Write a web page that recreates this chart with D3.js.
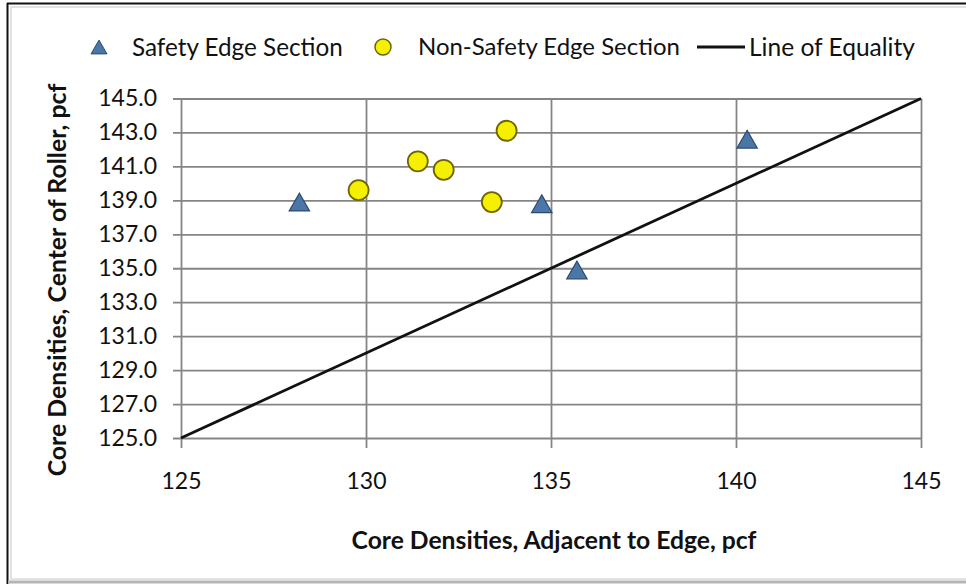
<!DOCTYPE html>
<html>
<head>
<meta charset="utf-8">
<script src="https://cdn.jsdelivr.net/npm/d3@7"></script>
<style>
  html, body { margin: 0; padding: 0; background: #fff; }
  svg { display: block; }
  text { font-family: Lato, "Open Sans", sans-serif; fill: #111; }
</style>
</head>
<body>
<svg id="chart" width="966" height="584"></svg>
<script>
// ---- data ----
const safetyX = [128.2, 134.75, 135.7, 140.3];
const safetyY = [138.9, 138.8, 134.9, 142.6];
const nonSafetyX = [129.8, 131.4, 132.1, 133.8, 133.4];
const nonSafetyY = [139.6, 141.3, 140.8, 143.1, 138.9];
const equalityX = [125, 145];
const equalityY = [125, 145];
const xTicks = [125, 130, 135, 140, 145];
const yTicks = [125, 127, 129, 131, 133, 135, 137, 139, 141, 143, 145];
const legendLabels = ["Safety Edge Section", "Non-Safety Edge Section", "Line of Equality"];
const xTitle = "Core Densities, Adjacent to Edge, pcf";
const yTitle = "Core Densities, Center of Roller, pcf";

// ---- layout ----
const svg = d3.select("#chart");
const pLeft = 181, pRight = 921, pTop = 98.5, pBottom = 438;
const x = d3.scaleLinear().domain([125, 145]).range([pLeft, pRight]);
const y = d3.scaleLinear().domain([125, 145]).range([pBottom, pTop]);

// frame
svg.append("rect").attr("x", 11).attr("y", 7).attr("width", 970).attr("height", 572)
  .attr("fill", "none").attr("stroke", "#e2e2e2").attr("stroke-width", 2);
svg.append("line").attr("x1", 7.5).attr("x2", 7.5).attr("y1", 3).attr("y2", 584)
  .attr("stroke", "#111").attr("stroke-width", 2);
svg.append("line").attr("x1", 7).attr("x2", 966).attr("y1", 3.5).attr("y2", 3.5)
  .attr("stroke", "#111").attr("stroke-width", 2);
svg.append("line").attr("x1", 8).attr("x2", 966).attr("y1", 582).attr("y2", 582)
  .attr("stroke", "#b5b5b5").attr("stroke-width", 3);

const gridColor = "#858585";

// horizontal grid + y axis
const yAxis = d3.axisLeft(y).tickValues(yTicks).tickSize(-(pRight - pLeft)).tickSizeOuter(0)
  .tickFormat(d3.format(".1f"));
const gy = svg.append("g").attr("transform", `translate(${pLeft},0)`).call(yAxis);
gy.select(".domain").remove();
gy.selectAll(".tick line").attr("stroke", gridColor).attr("stroke-width", 1.8)
  .attr("x1", -8);
gy.selectAll(".tick text").attr("x", -24).attr("font-size", 23).attr("fill", "#111")
  .style("font-family", "Lato, sans-serif");

// vertical grid + x axis
const xAxis = d3.axisBottom(x).tickValues(xTicks).tickSize(-(pBottom - pTop)).tickSizeOuter(0)
  .tickFormat(d3.format("d"));
const gx = svg.append("g").attr("transform", `translate(0,${pBottom})`).call(xAxis);
gx.select(".domain").remove();
gx.selectAll(".tick line").attr("stroke", gridColor).attr("stroke-width", 1.8)
  .attr("y1", 10);
gx.selectAll(".tick text").attr("y", 43).attr("dy", "0.35em").attr("font-size", 23)
  .attr("fill", "#111").style("font-family", "Lato, sans-serif");

// line of equality
const lineGen = d3.line().x(d => x(d[0])).y(d => y(d[1]));
svg.append("path").datum(d3.zip(equalityX, equalityY)).attr("d", lineGen)
  .attr("fill", "none").attr("stroke", "#111").attr("stroke-width", 2.8);

// markers
const triSize = 180;
const triH = Math.sqrt(triSize * 4 / Math.sqrt(3)) * Math.sqrt(3) / 2;
const tri = d3.symbol().type(d3.symbolTriangle).size(triSize);
const triColor = "#4a76a8", triStroke = "#2c4a70";
const circColor = "#f4f000", circStroke = "#6e6400";

svg.append("g").selectAll("circle").data(d3.zip(nonSafetyX, nonSafetyY)).join("circle")
  .attr("cx", d => x(d[0])).attr("cy", d => y(d[1])).attr("r", 10)
  .attr("fill", circColor).attr("stroke", circStroke).attr("stroke-width", 1.8);

svg.append("g").selectAll("path").data(d3.zip(safetyX, safetyY)).join("path")
  .attr("d", tri)
  .attr("transform", d => `translate(${x(d[0])},${y(d[1]) + triH / 6})`)
  .attr("fill", triColor).attr("stroke", triStroke).attr("stroke-width", 1.2);

// fit helper
function fit(sel, target) {
  const w = sel.node().getComputedTextLength();
  const fs = parseFloat(sel.attr("font-size"));
  if (w > 0) sel.attr("font-size", fs * target / w);
}

// legend
const ly = 47;
const lg = svg.append("g");
const triL = d3.symbol().type(d3.symbolTriangle).size(110);
const triLH = Math.sqrt(110 * 4 / Math.sqrt(3)) * Math.sqrt(3) / 2;
lg.append("path").attr("d", triL).attr("transform", `translate(99,${ly + triLH / 6})`)
  .attr("fill", triColor).attr("stroke", triStroke).attr("stroke-width", 1);
const t1 = lg.append("text").attr("x", 132).attr("y", ly).attr("dy", "0.35em")
  .attr("font-size", 21).text(legendLabels[0]);
fit(t1, 211);
lg.append("circle").attr("cx", 383).attr("cy", ly).attr("r", 8)
  .attr("fill", circColor).attr("stroke", circStroke).attr("stroke-width", 1.5);
const t2 = lg.append("text").attr("x", 418).attr("y", ly).attr("dy", "0.35em")
  .attr("font-size", 21).text(legendLabels[1]);
fit(t2, 262);
lg.append("line").attr("x1", 697).attr("x2", 745).attr("y1", ly).attr("y2", ly)
  .attr("stroke", "#111").attr("stroke-width", 2.8);
const t3 = lg.append("text").attr("x", 749).attr("y", ly).attr("dy", "0.35em")
  .attr("font-size", 21).text(legendLabels[2]);
fit(t3, 166);

// axis titles
const xt = svg.append("text").attr("x", 554).attr("y", 540).attr("dy", "0.35em")
  .attr("text-anchor", "middle").attr("font-size", 21).attr("font-weight", 700).text(xTitle);
fit(xt, 405);
const yt = svg.append("text").attr("transform", "translate(57,280) rotate(-90)")
  .attr("dy", "0.35em").attr("text-anchor", "middle").attr("font-size", 21)
  .attr("font-weight", 700).text(yTitle);
fit(yt, 393);
</script>
</body>
</html>
